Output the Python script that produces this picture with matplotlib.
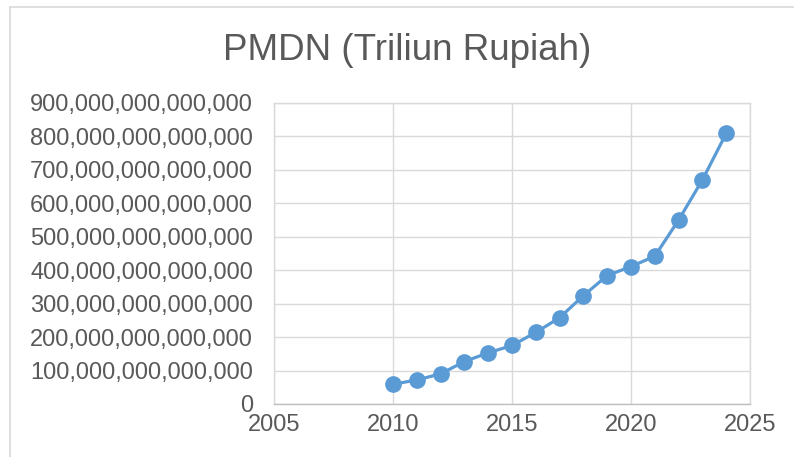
import matplotlib
matplotlib.use("Agg")
import matplotlib.pyplot as plt
from matplotlib.ticker import FuncFormatter, MultipleLocator
from matplotlib.lines import Line2D

plt.rcParams["font.family"] = ["Liberation Sans", "DejaVu Sans"]

years = [2010, 2011, 2012, 2013, 2014, 2015, 2016, 2017, 2018, 2019, 2020, 2021, 2022, 2023, 2024]
pmdn = [59e12, 72e12, 90e12, 127e12, 153e12, 175e12, 214e12, 258e12, 324e12, 384e12,
        411e12, 442e12, 550e12, 670e12, 809e12]
title = "PMDN (Triliun Rupiah)"

W, H = 794, 457
fig = plt.figure(figsize=(W / 100, H / 100), dpi=100)
fig.patch.set_facecolor("white")

ax = fig.add_axes([274 / W, 1 - 404 / H, (750 - 274) / W, (404 - 103) / H])
ax.plot(years, pmdn, color="#5B9BD5", lw=2.3, marker="o", markersize=11,
        markerfacecolor="#5B9BD5", markeredgecolor="#5B9BD5", zorder=3)

ax.set_xlim(2005, 2025)
ax.set_ylim(0, 900e12)
ax.xaxis.set_major_locator(MultipleLocator(5))
ax.yaxis.set_major_locator(MultipleLocator(100e12))
ax.yaxis.set_major_formatter(FuncFormatter(lambda v, p: f"{int(round(v)):,}"))
ax.grid(True, color="#d9d9d9", lw=1.0, zorder=0)
for s in ["left", "right", "top"]:
    ax.spines[s].set_color("#d9d9d9")
    ax.spines[s].set_linewidth(1.0)
ax.spines["bottom"].set_color("#bfbfbf")
ax.spines["bottom"].set_linewidth(1.0)
ax.tick_params(length=0, labelsize=17, colors="#595959")
ax.tick_params(axis="y", pad=15)
ax.tick_params(axis="x", pad=7)

fig.text(407 / W, 1 - 51 / H, title, ha="center", va="center", fontsize=26.5, color="#595959")

# chart border
fig.add_artist(Line2D([9.5 / W, 9.5 / W], [0, 1 - 7 / H], color="#d9d9d9", lw=1.2))
fig.add_artist(Line2D([9.5 / W, 1], [1 - 7 / H, 1 - 7 / H], color="#d9d9d9", lw=1.2))

fig.savefig("out.png", dpi=100, facecolor="white")
